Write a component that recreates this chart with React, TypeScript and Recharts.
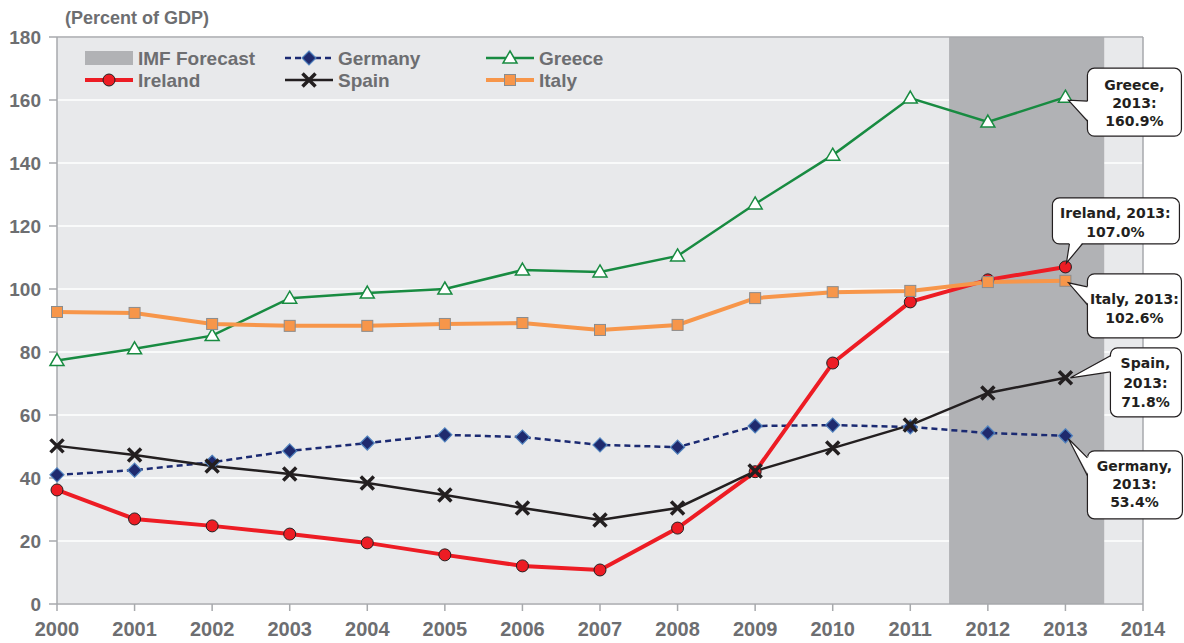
import React from "react";
import {
  LineChart,
  Line,
  XAxis,
  YAxis,
  CartesianGrid,
  ReferenceArea,
  ReferenceLine,
} from "recharts";

// government debt, percent of GDP
const years = [2000, 2001, 2002, 2003, 2004, 2005, 2006, 2007, 2008, 2009, 2010, 2011, 2012, 2013];
const germany = [41.0, 42.5, 45.0, 48.6, 51.1, 53.7, 53.0, 50.5, 49.8, 56.5, 56.8, 56.2, 54.3, 53.4];
const greece = [77.3, 81.0, 85.2, 97.1, 98.7, 100.0, 106.0, 105.4, 110.5, 127.0, 142.5, 160.6, 153.0, 160.9];
const ireland = [36.2, 27.0, 24.8, 22.2, 19.4, 15.6, 12.1, 10.8, 24.1, 42.0, 76.5, 95.9, 102.9, 107.0];
const spain = [50.2, 47.3, 43.8, 41.3, 38.4, 34.6, 30.5, 26.7, 30.5, 42.2, 49.5, 56.8, 67.0, 71.8];
const italy = [92.7, 92.4, 88.9, 88.3, 88.3, 88.9, 89.2, 87.0, 88.6, 97.1, 99.0, 99.4, 102.2, 102.6];
const forecastYears = [2012, 2013];
const xTicks = [2000, 2001, 2002, 2003, 2004, 2005, 2006, 2007, 2008, 2009, 2010, 2011, 2012, 2013, 2014];
const yTicks = [0, 20, 40, 60, 80, 100, 120, 140, 160, 180];

const data = years.map((year, i) => ({
  year,
  germany: germany[i],
  greece: greece[i],
  ireland: ireland[i],
  spain: spain[i],
  italy: italy[i],
}));

const GREY = "#6d6e71";
const AXIS = "#a7a9ac";
const FONT = "'Liberation Sans', Arial, sans-serif";

function marker(kind: string, cx: number, cy: number) {
  if (kind === "diamond") {
    const s = 7;
    return <path d={`M${cx},${cy - s}L${cx + s},${cy}L${cx},${cy + s}L${cx - s},${cy}Z`} fill="#1f2a6e" stroke="#4f81bd" strokeWidth={1.2} />;
  }
  if (kind === "triangle") {
    return <path d={`M${cx},${cy - 7}L${cx + 7},${cy + 5}L${cx - 7},${cy + 5}Z`} fill="#fff" stroke="#188b41" strokeWidth={1.5} />;
  }
  if (kind === "circle") {
    return <circle cx={cx} cy={cy} r={6} fill="#ed1c24" stroke="#231f20" strokeWidth={1} />;
  }
  if (kind === "x") {
    const s = 6.5;
    return <path d={`M${cx - s},${cy - s}L${cx + s},${cy + s}M${cx + s},${cy - s}L${cx - s},${cy + s}`} stroke="#231f20" strokeWidth={3.5} fill="none" />;
  }
  return <rect x={cx - 5.5} y={cy - 5.5} width={11} height={11} fill="#f7964a" stroke="#8c8c8c" strokeWidth={1} />;
}

// callout box placement relative to the 2013 point
type Box = { bx: number; by: number; w: number; h: number; a: number[]; b: number[]; tip: number[]; tx: number; lines: number[] };

function callout(cx: number, cy: number, box: Box, text: string[]) {
  const [ax, ay] = box.a;
  const [bx2, by2] = box.b;
  const [tx, ty] = box.tip;
  // push the base a bit into the box to hide the border under the tail
  const inset = (p: number[]) => {
    const onLeft = p[0] === box.bx;
    return onLeft ? [p[0] + 1.5, p[1]] : [p[0], p[1] - 1.5];
  };
  const ia = inset(box.a);
  const ib = inset(box.b);
  return (
    <g>
      <rect x={cx + box.bx} y={cy + box.by} width={box.w} height={box.h} rx={7} fill="#fff" stroke="#231f20" strokeWidth={1.2} />
      <path d={`M${cx + ia[0]},${cy + ia[1]}L${cx + tx},${cy + ty}L${cx + ib[0]},${cy + ib[1]}Z`} fill="#fff" />
      <path d={`M${cx + ax},${cy + ay}L${cx + tx},${cy + ty}L${cx + bx2},${cy + by2}`} fill="none" stroke="#231f20" strokeWidth={1.2} />
      {text.map((t, i) => (
        <text key={i} x={cx + box.tx} y={cy + box.lines[i]} textAnchor="middle" fontFamily="'DejaVu Sans', sans-serif" fontWeight="bold" fontSize={14} fill="#231f20">
          {t}
        </text>
      ))}
    </g>
  );
}

const series = [
  { key: "germany", name: "Germany", color: "#1b2a72", width: 2.5, dash: "6 4", kind: "diamond",
    box: { bx: 22, by: 15, w: 95, h: 68, a: [22, 22], b: [22, 40], tip: [3, 3], tx: 69, lines: [35, 53, 71] } },
  { key: "greece", name: "Greece", color: "#188b41", width: 2.5, dash: undefined, kind: "triangle",
    box: { bx: 22, by: -29, w: 94, h: 68, a: [22, 4], b: [22, 24], tip: [3, 3], tx: 69, lines: [-7, 11, 29] } },
  { key: "ireland", name: "Ireland", color: "#ed1c24", width: 4, dash: undefined, kind: "circle",
    box: { bx: -13, by: -69, w: 127, h: 46, a: [4, -23], b: [17, -23], tip: [1, -4], tx: 50, lines: [-49, -30] } },
  { key: "spain", name: "Spain", color: "#231f20", width: 2.5, dash: undefined, kind: "x",
    box: { bx: 45, by: -30, w: 71, h: 69, a: [45, -22], b: [45, -6], tip: [5, 0], tx: 80, lines: [-10, 10, 29] } },
  { key: "italy", name: "Italy", color: "#f7964a", width: 4, dash: undefined, kind: "square",
    box: { bx: 22, by: -7, w: 94, h: 64, a: [22, 6], b: [22, 24], tip: [3, 2], tx: 69, lines: [23, 42] } },
];

const seriesValues: Record<string, number[]> = { germany, greece, ireland, spain, italy };

function legendItem(kind: string, color: string, dash: string | undefined, x: number, y: number, label: string, width: number) {
  return (
    <g key={label}>
      <line x1={x} x2={x + 48} y1={y} y2={y} stroke={color} strokeWidth={width} strokeDasharray={dash} />
      {marker(kind, x + 24, y)}
      <text x={x + 53} y={y + 7} fontFamily={FONT} fontWeight="bold" fontSize={19} fill={GREY}>{label}</text>
    </g>
  );
}

export default function App() {
  const last = years.length - 1;
  const legendPos: Record<string, number[]> = {
    germany: [285, 58],
    greece: [486, 58],
    ireland: [85, 80],
    spain: [285, 80],
    italy: [486, 80],
  };
  return (
    <div style={{ position: "absolute", left: 0, top: 0, width: 1184, height: 643, background: "#fff" }}>
      <LineChart width={1184} height={643} data={data} margin={{ top: 37, right: 41, bottom: 0, left: 0 }}>
        <CartesianGrid horizontal vertical={false} fill="#e8e9eb" stroke="#ffffff" strokeWidth={1.5} />
        <ReferenceArea
          x1={forecastYears[0] - 0.5}
          x2={forecastYears[forecastYears.length - 1] + 0.5}
          y1={0}
          y2={180}
          fill="#b1b2b5"
          fillOpacity={1}
          stroke="none"
        />
        <ReferenceLine y={180} stroke={AXIS} strokeWidth={1.5} />
        <ReferenceLine x={2014} stroke={AXIS} strokeWidth={1.5} />
        <XAxis
          dataKey="year"
          type="number"
          domain={[2000, 2014]}
          ticks={xTicks}
          height={39}
          tickSize={7}
          tickMargin={11}
          stroke={AXIS}
          strokeWidth={1.5}
          tick={{ fill: GREY, fontFamily: FONT, fontWeight: "bold", fontSize: 20 }}
        />
        <YAxis
          type="number"
          domain={[0, 180]}
          ticks={yTicks}
          width={57}
          tickSize={8}
          tickMargin={8}
          stroke={AXIS}
          strokeWidth={1.5}
          tick={{ fill: GREY, fontFamily: FONT, fontWeight: "bold", fontSize: 19 }}
        />
        {series.map((s) => (
          <Line
            key={s.key}
            dataKey={s.key}
            type="linear"
            stroke={s.color}
            strokeWidth={s.width}
            strokeDasharray={s.dash}
            isAnimationActive={false}
            dot={(p: any) => (
              <g key={`${s.key}-${p.index}`}>
                {marker(s.kind, p.cx, p.cy)}
                {p.index === last
                  ? callout(p.cx, p.cy, s.box as Box, s.box.lines.length === 2
                      ? [`${s.name}, 2013:`, `${seriesValues[s.key][last].toFixed(1)}%`]
                      : [`${s.name},`, "2013:", `${seriesValues[s.key][last].toFixed(1)}%`])
                  : null}
              </g>
            )}
            activeDot={false}
          />
        ))}
      </LineChart>
      <svg width={1184} height={100} style={{ position: "absolute", left: 0, top: 0, pointerEvents: "none" }}>
        <text x={65} y={24} fontFamily={FONT} fontWeight="bold" fontSize={18} fill={GREY}>(Percent of GDP)</text>
        <rect x={85} y={51} width={48} height={14} fill="#b1b2b5" />
        <text x={138} y={65} fontFamily={FONT} fontWeight="bold" fontSize={19} fill={GREY}>IMF Forecast</text>
        {series.map((s) => legendItem(s.kind, s.color, s.dash, legendPos[s.key][0], legendPos[s.key][1], s.name, s.width))}
      </svg>
    </div>
  );
}
